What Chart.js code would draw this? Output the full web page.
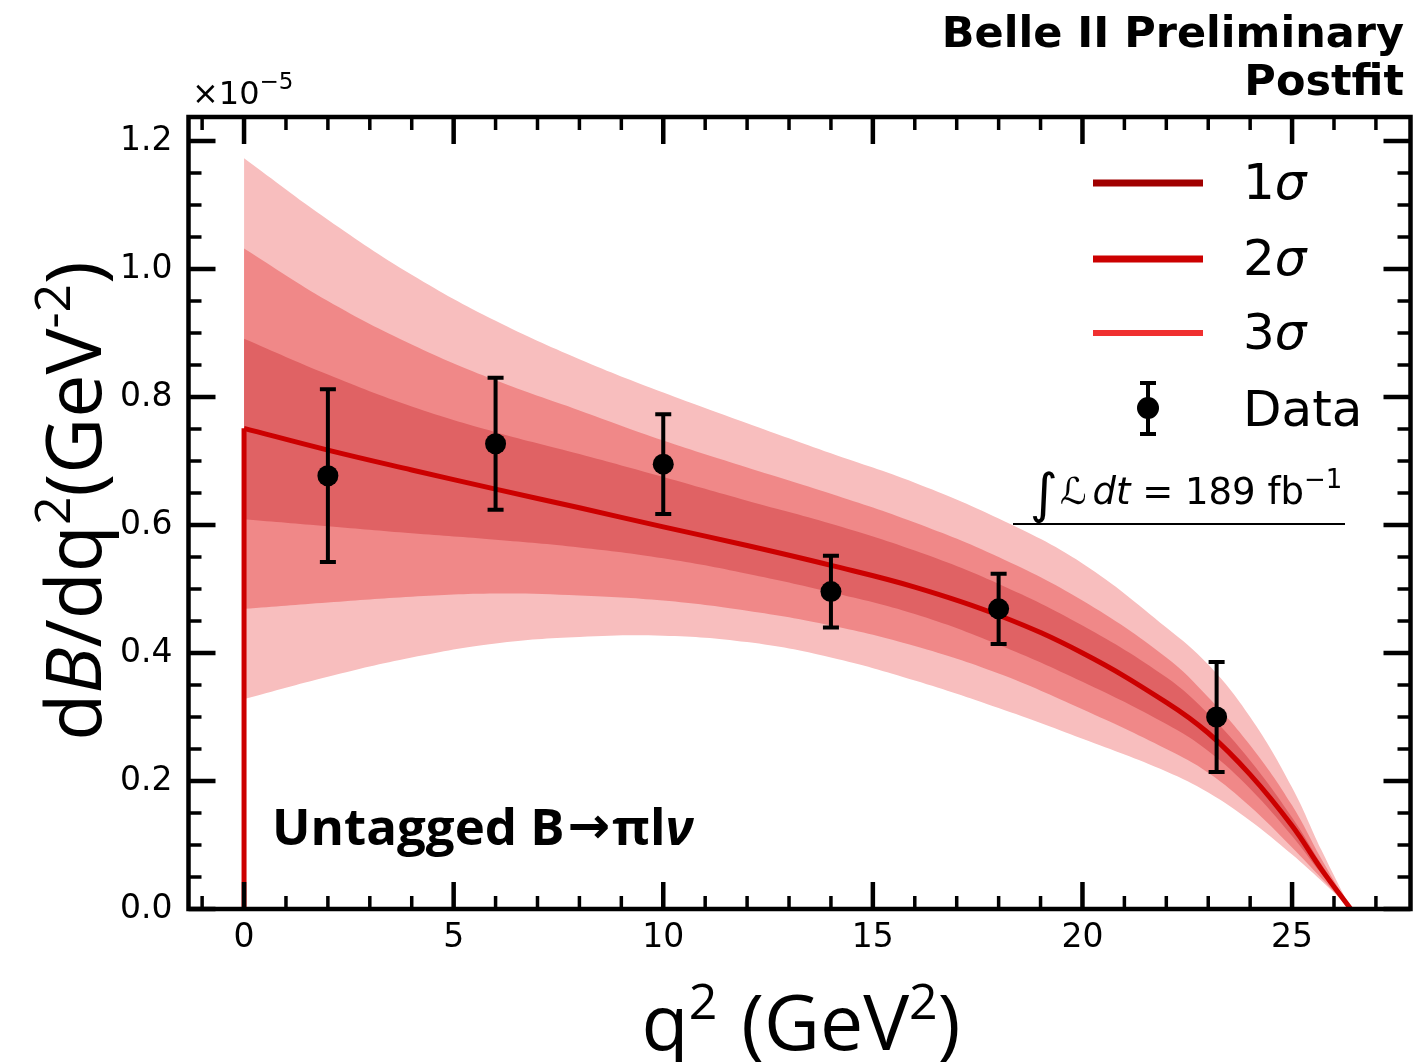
<!DOCTYPE html>
<html>
<head>
<meta charset="utf-8">
<script src="https://cdn.jsdelivr.net/npm/chart.js@4.4.1/dist/chart.umd.min.js"></script>
<style>
  html, body { margin: 0; padding: 0; background: #fff; }
  #wrap { width: 1426px; height: 1062px; }
</style>
</head>
<body>
<div id="wrap"><canvas id="chart"></canvas></div>
<script>
// q^2 points where the fit curve and bands were read (GeV^2)
const qGrid = [0, 2, 4, 6, 8, 10, 12, 14, 16, 18, 20, 22, 23, 24, 25, 25.7, 26.4];

// dB/dq^2 in units of 1e-5
const fitCentral = [0.751, 0.717, 0.686, 0.656, 0.627, 0.597, 0.568, 0.537, 0.503, 0.459, 0.400, 0.323, 0.275, 0.210, 0.130, 0.062, 0];
const band1Up = [0.891, 0.835, 0.785, 0.745, 0.711, 0.675, 0.638, 0.602, 0.560, 0.508, 0.443, 0.362, 0.305, 0.232, 0.143, 0.070, 0];
const band1Lo = [0.609, 0.598, 0.587, 0.577, 0.565, 0.548, 0.524, 0.495, 0.461, 0.413, 0.355, 0.289, 0.247, 0.188, 0.114, 0.055, 0];
const band2Up = [1.032, 0.950, 0.882, 0.826, 0.779, 0.732, 0.690, 0.649, 0.604, 0.550, 0.482, 0.393, 0.331, 0.256, 0.162, 0.078, 0];
const band2Lo = [0.469, 0.479, 0.488, 0.493, 0.490, 0.482, 0.466, 0.443, 0.411, 0.368, 0.312, 0.250, 0.213, 0.160, 0.096, 0.048, 0];
const band3Up = [1.173, 1.077, 0.991, 0.919, 0.859, 0.807, 0.759, 0.712, 0.666, 0.610, 0.540, 0.440, 0.382, 0.300, 0.190, 0.092, 0];
const band3Lo = [0.328, 0.363, 0.393, 0.415, 0.425, 0.427, 0.417, 0.393, 0.357, 0.314, 0.266, 0.215, 0.182, 0.138, 0.085, 0.044, 0];

// measured points
const dataQ = [2, 6, 10, 14, 18, 23.2];
const dataVal = [0.677, 0.727, 0.695, 0.496, 0.469, 0.300];
const dataErr = [0.135, 0.103, 0.078, 0.056, 0.055, 0.086];

// axes
const xTicks = [0, 5, 10, 15, 20, 25];
const yTicks = [0, 0.2, 0.4, 0.6, 0.8, 1.0, 1.2];
const xRange = [-1.325, 27.825];
const yRange = [0, 1.2375];

const bandColors = ['#e06264', '#f08888', '#f8bebe'];
const lineRed = '#cc0000';

function pts(xs, ys) {
    return xs.map((x, i) => ({ x: x, y: ys[i] }));
}

// upper edge fills down to the lower edge dataset
function bandPair(up, lo, color, loIndex, order) {
    const common = {
        borderColor: 'rgba(0,0,0,0)',
        borderWidth: 0,
        pointRadius: 0,
        tension: 0.4,
        order: order
    };
    return [
        Object.assign({ data: pts(qGrid, up), fill: loIndex, backgroundColor: color }, common),
        Object.assign({ data: pts(qGrid, lo), fill: false }, common)
    ];
}

// draw a row of text pieces (with superscripts / italics)
function drawRuns(ctx, runs, x, y, align) {
    let total = 0;
    runs.forEach(r => {
        ctx.font = r.font;
        r.w = ctx.measureText(r.t).width + (r.gap || 0);
        total += r.w;
    });
    let cx = align === 'right' ? x - total : align === 'center' ? x - total / 2 : x;
    runs.forEach(r => {
        ctx.font = r.font;
        ctx.fillText(r.t, cx, y + (r.dy || 0));
        cx += r.w;
    });
}

const framePlugin = {
    id: 'frame',
    afterDatasetsDraw(chart) {
        const { ctx, chartArea: a, scales: { x, y } } = chart;
        ctx.save();
        ctx.strokeStyle = '#000';
        ctx.lineCap = 'butt';

        function vTick(px, len, w) {
            ctx.lineWidth = w;
            ctx.beginPath();
            ctx.moveTo(px, a.bottom); ctx.lineTo(px, a.bottom - len);
            ctx.moveTo(px, a.top); ctx.lineTo(px, a.top + len);
            ctx.stroke();
        }
        function hTick(py, len, w) {
            ctx.lineWidth = w;
            ctx.beginPath();
            ctx.moveTo(a.left, py); ctx.lineTo(a.left + len, py);
            ctx.moveTo(a.right, py); ctx.lineTo(a.right - len, py);
            ctx.stroke();
        }

        for (let v = -1; v <= 27; v++) {
            if (v % 5 !== 0) vTick(x.getPixelForValue(v), 13, 3.5);
        }
        xTicks.forEach(v => vTick(x.getPixelForValue(v), 27, 4.5));
        for (let i = 1; i < 25; i++) {
            if (i % 4 !== 0) hTick(y.getPixelForValue(i * 0.05), 13, 3.5);
        }
        yTicks.forEach(v => hTick(y.getPixelForValue(v), 27, 4.5));

        ctx.lineWidth = 4.5;
        ctx.strokeRect(a.left, a.top, a.right - a.left, a.bottom - a.top);

        // error bars
        ctx.lineWidth = 4;
        dataQ.forEach((q, i) => {
            const px = x.getPixelForValue(q);
            const top = y.getPixelForValue(dataVal[i] + dataErr[i]);
            const bot = y.getPixelForValue(dataVal[i] - dataErr[i]);
            ctx.beginPath();
            ctx.moveTo(px, top); ctx.lineTo(px, bot);
            ctx.moveTo(px - 8, top); ctx.lineTo(px + 8, top);
            ctx.moveTo(px - 8, bot); ctx.lineTo(px + 8, bot);
            ctx.stroke();
        });
        ctx.restore();
    },
    afterDraw(chart) {
        const { ctx } = chart;
        ctx.save();
        ctx.fillStyle = '#000';
        ctx.textBaseline = 'alphabetic';
        ctx.textAlign = 'left';

        // offset text
        drawRuns(ctx, [
            { t: '\u00d710', font: '32px "DejaVu Sans"' },
            { t: '\u22125', font: '23px "DejaVu Sans"', dy: -15 }
        ], 192, 104, 'left');

        // header
        ctx.font = 'bold 43px "DejaVu Sans"';
        ctx.textAlign = 'right';
        ctx.fillText('Belle II Preliminary', 1404, 47);
        ctx.fillText('Postfit', 1404, 95);
        ctx.textAlign = 'left';

        // axis titles
        const big = '77px "Open Sans"';
        const sup = '50px "Open Sans"';
        drawRuns(ctx, [
            { t: 'q', font: big },
            { t: '2', font: sup, dy: -31, gap: 4 },
            { t: ' (GeV', font: big },
            { t: '2', font: sup, dy: -31 },
            { t: ')', font: big }
        ], 801, 1050, 'center');

        ctx.save();
        ctx.translate(101, 501);
        ctx.rotate(-Math.PI / 2);
        drawRuns(ctx, [
            { t: 'd', font: big },
            { t: 'B', font: 'italic ' + big },
            { t: '/dq', font: big },
            { t: '2', font: sup, dy: -31 },
            { t: '(GeV', font: big },
            { t: '-2', font: sup, dy: -31 },
            { t: ')', font: big }
        ], 0, 0, 'center');
        ctx.restore();

        // channel label
        drawRuns(ctx, [
            { t: 'Untagged B', font: 'bold 51px "Open Sans"', gap: 3 },
            { t: '\u2192', font: 'bold 51px "DejaVu Sans"', dy: -2, gap: 2 },
            { t: '\u03c0l', font: 'bold 51px "Open Sans"' },
            { t: '\u03bd', font: 'bold italic 51px "Open Sans"' }
        ], 272, 845, 'left');

        // legend
        const legend = [
            { label: '1', color: '#a00000', w: 7, y: 183 },
            { label: '2', color: lineRed, w: 7, y: 259 },
            { label: '3', color: '#f03030', w: 6, y: 333 }
        ];
        legend.forEach(item => {
            ctx.strokeStyle = item.color;
            ctx.lineWidth = item.w;
            ctx.beginPath();
            ctx.moveTo(1093, item.y); ctx.lineTo(1203, item.y);
            ctx.stroke();
            drawRuns(ctx, [
                { t: item.label, font: '50px "DejaVu Sans"' },
                { t: '\u03c3', font: 'oblique 50px "DejaVu Sans"' }
            ], 1243, item.y + 16, 'left');
        });
        ctx.strokeStyle = '#000';
        ctx.lineWidth = 4;
        ctx.beginPath();
        ctx.moveTo(1148, 383); ctx.lineTo(1148, 434);
        ctx.moveTo(1140, 383); ctx.lineTo(1156, 383);
        ctx.moveTo(1140, 434); ctx.lineTo(1156, 434);
        ctx.stroke();
        ctx.beginPath();
        ctx.arc(1148, 408, 11, 0, Math.PI * 2);
        ctx.fill();
        ctx.font = '50px "DejaVu Sans"';
        ctx.fillText('Data', 1243, 426);

        // luminosity
        const m = '37px "DejaVu Sans"';
        drawRuns(ctx, [
            { t: '\u222b', font: '54px "DejaVu Sans"', dy: 8, gap: 2 },
            { t: '\u2112', font: 'oblique ' + m, gap: 6 },
            { t: 'dt', font: 'oblique ' + m },
            { t: ' = 189 fb', font: m },
            { t: '\u22121', font: '26px "DejaVu Sans"', dy: -16 }
        ], 1186, 504, 'center');
        ctx.lineWidth = 2;
        ctx.beginPath();
        ctx.moveTo(1013, 524); ctx.lineTo(1345, 524);
        ctx.stroke();
        ctx.restore();
    }
};

const datasets = [
    ...bandPair(band3Up, band3Lo, bandColors[2], 1, 6),
    ...bandPair(band2Up, band2Lo, bandColors[1], 3, 5),
    ...bandPair(band1Up, band1Lo, bandColors[0], 5, 4),
    {
        data: pts(qGrid, fitCentral),
        borderColor: lineRed,
        borderWidth: 5,
        pointRadius: 0,
        fill: false,
        tension: 0.4,
        order: 2
    },
    {
        data: [{ x: 0, y: 0 }, { x: 0, y: fitCentral[0] }],
        borderColor: lineRed,
        borderWidth: 5,
        pointRadius: 0,
        fill: false,
        order: 2
    },
    {
        data: pts(dataQ, dataVal),
        showLine: false,
        pointRadius: 10.5,
        pointBackgroundColor: '#000',
        pointBorderWidth: 0,
        order: 0
    }
];

new Chart(document.getElementById('chart'), {
    type: 'line',
    data: { datasets: datasets },
    options: {
        responsive: true,
        maintainAspectRatio: false,
        animation: false,
        devicePixelRatio: 1,
        layout: { padding: { top: 117, right: 15.5, left: 0, bottom: 0 } },
        plugins: {
            legend: { display: false },
            tooltip: { enabled: false },
            filler: { drawTime: 'beforeDatasetDraw' }
        },
        scales: {
            x: {
                type: 'linear',
                min: xRange[0],
                max: xRange[1],
                afterBuildTicks: s => { s.ticks = xTicks.map(v => ({ value: v })); },
                afterFit: s => { s.height = 153; },
                grid: { display: false, drawTicks: false },
                border: { display: false },
                ticks: {
                    color: '#000',
                    padding: 10,
                    font: { family: 'DejaVu Sans', size: 33 },
                    callback: v => String(v)
                }
            },
            y: {
                type: 'linear',
                min: yRange[0],
                max: yRange[1],
                afterBuildTicks: s => { s.ticks = yTicks.map(v => ({ value: v })); },
                afterFit: s => { s.width = 188.5; },
                grid: { display: false, drawTicks: false },
                border: { display: false },
                ticks: {
                    color: '#000',
                    padding: 16,
                    font: { family: 'DejaVu Sans', size: 33 },
                    callback: v => v.toFixed(1)
                }
            }
        }
    },
    plugins: [framePlugin]
});
</script>
</body>
</html>
